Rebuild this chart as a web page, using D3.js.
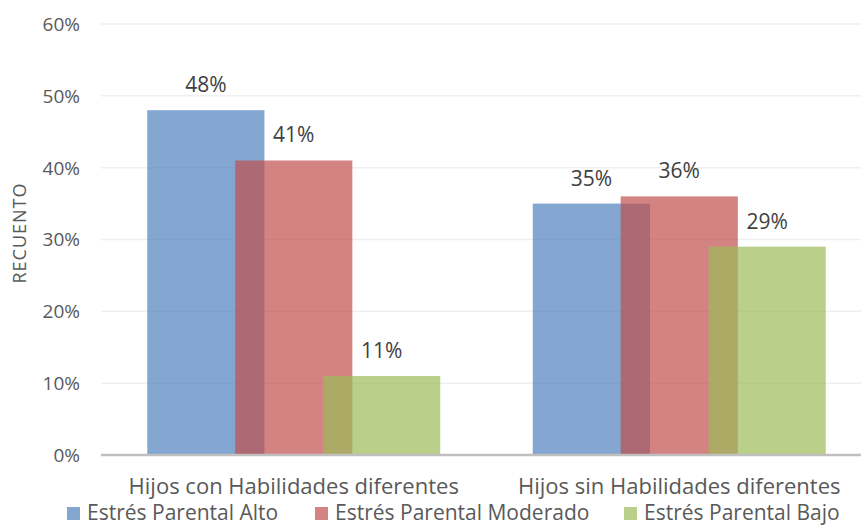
<!DOCTYPE html>
<html>
<head>
<meta charset="utf-8">
<script src="https://cdn.jsdelivr.net/npm/d3@7"></script>
<style>
  body { margin: 0; background: #fff; }
  text { font-family: "Open Sans", sans-serif; fill: #595959; }
</style>
</head>
<body>
<svg id="chart"></svg>
<script>
var categories = ['Hijos con Habilidades diferentes', 'Hijos sin Habilidades diferentes'];
var series = ['Estrés Parental Alto', 'Estrés Parental Moderado', 'Estrés Parental Bajo'];
var alto = [48, 35];
var moderado = [41, 36];
var bajo = [11, 29];
var yTicks = [0, 10, 20, 30, 40, 50, 60];

var colors = ['#4F81BD', '#C0504D', '#9BBB59'];
var values = [alto, moderado, bajo];

var width = 861;
var height = 525;

var svg = d3.select('#chart')
    .attr('width', width)
    .attr('height', height);

var yScale = d3.scaleLinear()
    .domain([0, 60])
    .range([455, 24]);

var xScale = d3.scaleBand()
    .domain(categories)
    .range([101, 872])
    .paddingInner(0.24)
    .paddingOuter(0.12);

// 25% overlap like the excel chart
var barW = xScale.bandwidth() / (series.length - (series.length - 1) * 0.25);
var inner = d3.scalePoint()
    .domain(series)
    .range([0, barW * 0.75 * (series.length - 1)]);

// gridlines
svg.append('g')
  .selectAll('line')
    .data(yTicks.slice(1))
    .enter()
  .append('line')
    .attr('x1', 101)
    .attr('x2', width)
    .attr('y1', d => yScale(d))
    .attr('y2', d => yScale(d))
    .attr('stroke', '#efefef')
    .attr('stroke-width', 1.5);

// y labels
svg.append('g')
  .selectAll('text')
    .data(yTicks)
    .enter()
  .append('text')
    .attr('x', 80)
    .attr('y', d => yScale(d))
    .attr('dy', '0.36em')
    .style('text-anchor', 'end')
    .style('font-size', '19px')
    .text(d => d + '%');

// bars
series.forEach(function(s, i) {
  svg.append('g')
    .selectAll('rect')
      .data(categories)
      .enter()
    .append('rect')
      .attr('x', d => xScale(d) + inner(s))
      .attr('y', (d, j) => yScale(values[i][j]))
      .attr('width', barW)
      .attr('height', (d, j) => yScale(0) - yScale(values[i][j]))
      .attr('fill', colors[i])
      .attr('fill-opacity', 0.7);
});

// value labels
series.forEach(function(s, i) {
  svg.append('g')
    .selectAll('text')
      .data(categories)
      .enter()
    .append('text')
      .attr('x', d => xScale(d) + inner(s) + barW / 2)
      .attr('y', (d, j) => yScale(values[i][j]) - 18)
      .style('text-anchor', 'middle')
      .style('font-size', '21px')
      .style('fill', '#404040')
      .text((d, j) => values[i][j] + '%');
});

// x axis line
svg.append('line')
    .attr('x1', 101)
    .attr('x2', width)
    .attr('y1', yScale(0))
    .attr('y2', yScale(0))
    .attr('stroke', '#bfbfbf')
    .attr('stroke-width', 2.5);

// category labels
svg.append('g')
  .selectAll('text')
    .data(categories)
    .enter()
  .append('text')
    .attr('x', d => xScale(d) + xScale.bandwidth() / 2)
    .attr('y', 494)
    .style('text-anchor', 'middle')
    .style('font-size', '22px')
    .text(d => d);

svg.append('text')
    .attr('transform', 'rotate(-90)')
    .attr('x', -233)
    .attr('y', 26)
    .style('text-anchor', 'middle')
    .style('font-size', '18px')
    .style('letter-spacing', '1px')
    .text('RECUENTO');

// legend
var legendX = [67, 315, 624];
var legend = svg.append('g')
  .selectAll('g')
    .data(series)
    .enter()
  .append('g')
    .attr('transform', (d, i) => 'translate(' + legendX[i] + ',0)');

legend.append('rect')
    .attr('x', 0)
    .attr('y', 507)
    .attr('width', 13)
    .attr('height', 13)
    .attr('fill', (d, i) => colors[i])
    .attr('fill-opacity', 0.7);

legend.append('text')
    .attr('x', 20)
    .attr('y', 520)
    .style('font-size', '21px')
    .text(d => d);
</script>
</body>
</html>
